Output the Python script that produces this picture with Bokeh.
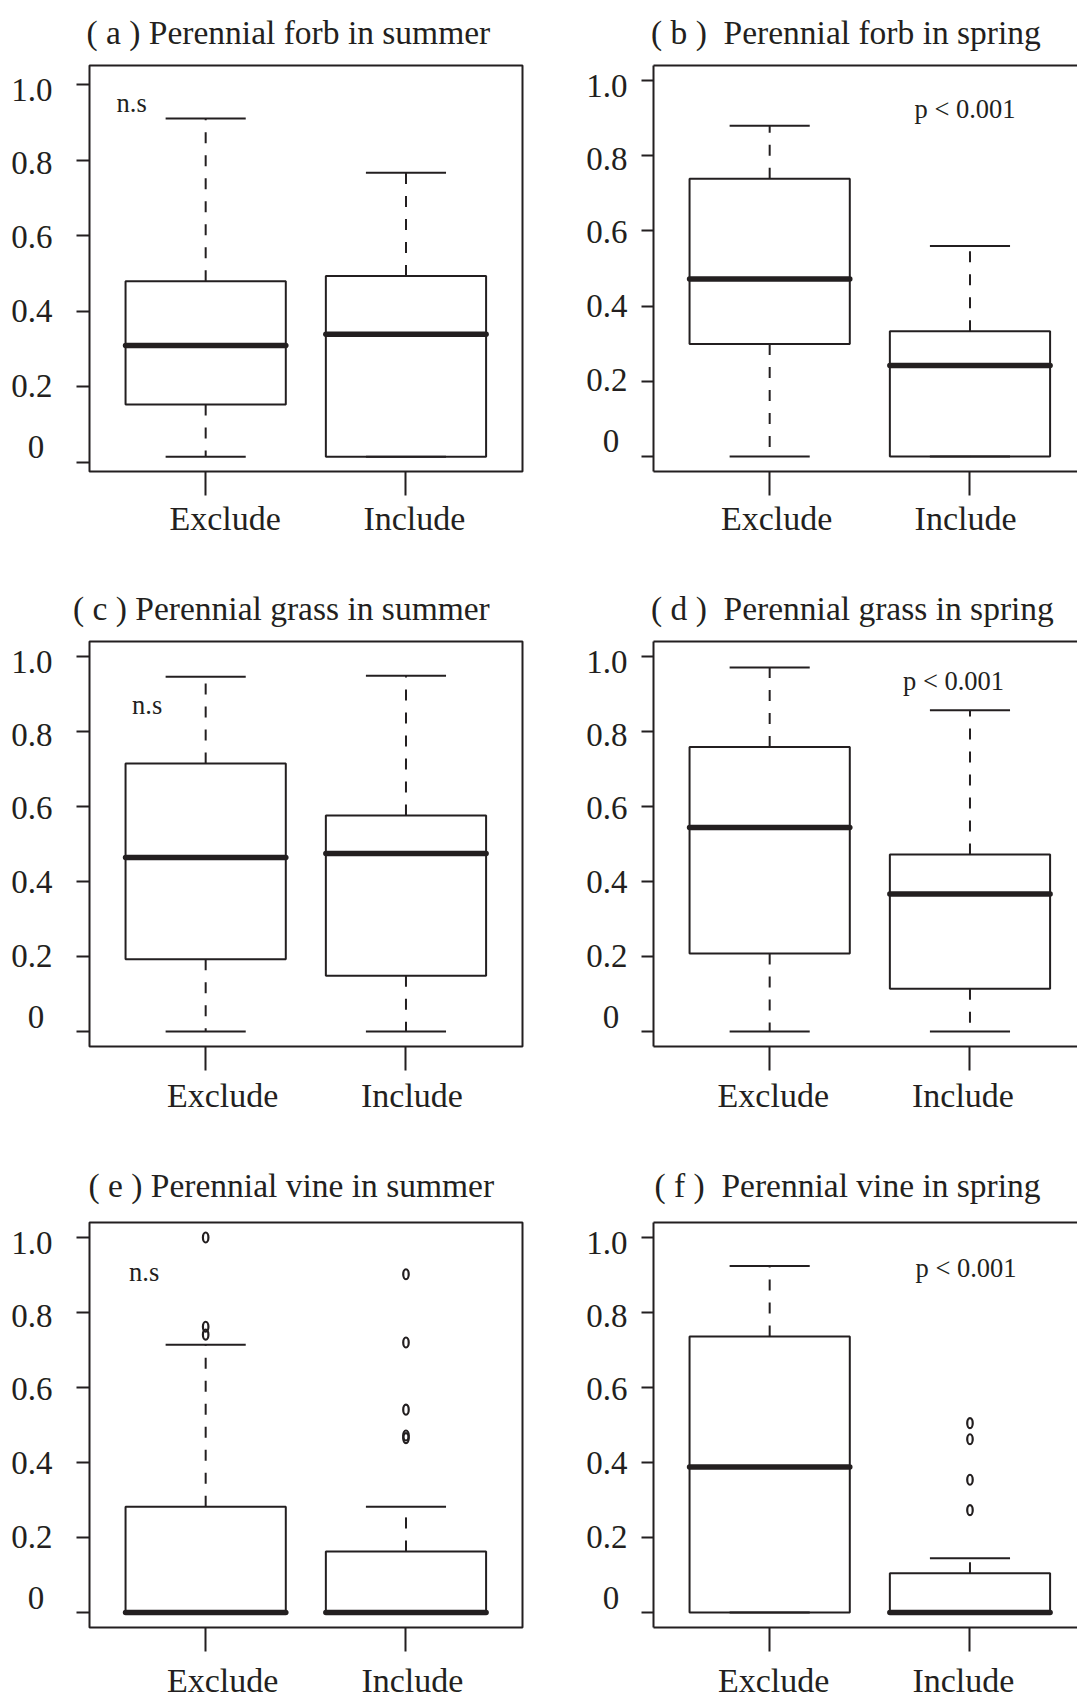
from bokeh.plotting import figure
from bokeh.models import (ColumnDataSource, FixedTicker, Label, LinearAxis, Range1d,
                          CustomJSTickFormatter)
from bokeh.layouts import column, row
from bokeh.transform import dodge
from bokeh.embed import file_html
from bokeh.resources import INLINE

# ---------------- data ----------------
categories = ["Exclude", "Include"]
y_ticks = [0, 0.2, 0.4, 0.6, 0.8, 1.0]
y_tick_labels = ["0", "0.2", "0.4", "0.6", "0.8", "1.0"]
titles = ["( a ) Perennial forb in summer", "( b )  Perennial forb in spring",
          "( c ) Perennial grass in summer", "( d )  Perennial grass in spring",
          "( e ) Perennial vine in summer", "( f )  Perennial vine in spring"]
tests = ["n.s", "p < 0.001", "n.s", "p < 0.001", "n.s", "p < 0.001"]

# box statistics, [Exclude, Include]
a_lower = [0.015, 0.015]; a_q1 = [0.153, 0.015]; a_median = [0.309, 0.339]; a_q3 = [0.479, 0.493]; a_upper = [0.910, 0.766]
b_lower = [0.0, 0.0];     b_q1 = [0.299, 0.0];   b_median = [0.472, 0.242]; b_q3 = [0.739, 0.333]; b_upper = [0.880, 0.560]
c_lower = [0.0, 0.0];     c_q1 = [0.193, 0.149]; c_median = [0.464, 0.475]; c_q3 = [0.715, 0.576]; c_upper = [0.946, 0.949]
d_lower = [0.0, 0.0];     d_q1 = [0.208, 0.114]; d_median = [0.544, 0.367]; d_q3 = [0.759, 0.472]; d_upper = [0.971, 0.857]
e_lower = [0.0, 0.0];     e_q1 = [0.0, 0.0];     e_median = [0.0, 0.0];     e_q3 = [0.282, 0.163]; e_upper = [0.714, 0.282]
f_lower = [0.0, 0.0];     f_q1 = [0.0, 0.0];     f_median = [0.388, 0.0];   f_q3 = [0.736, 0.105]; f_upper = [0.924, 0.145]

# outliers
e_out_cat = ["Exclude", "Exclude", "Exclude", "Include", "Include", "Include", "Include", "Include"]
e_out_val = [1.0, 0.762, 0.741, 0.902, 0.720, 0.541, 0.472, 0.465]
f_out_cat = ["Include", "Include", "Include", "Include"]
f_out_val = [0.505, 0.462, 0.354, 0.273]

# ---------------- style / layout ----------------
INK = "#231F20"
FONT = "Liberation Serif"
NBSP = "\u00a0"

COLS = [dict(x0=0, bl=89, fw=433, br=18, xr=(0.42, 0.42 + 433 / 200.3)),
        dict(x0=540, bl=113, fw=424, br=0, xr=(0.42, 0.42 + 424 / 200.3))]
ROWS = [dict(y0=0, bt=65, fh=406, bb=104),
        dict(y0=575, bt=66, fh=405, bb=104),
        dict(y0=1150, bt=72, fh=405, bb=74)]

TITLE_OFFSET = [-3, -2.5, -16.5, -2.5, -1, 1]
TITLE_STANDOFF = [25, 25, 24.9, 24.9, 31.5, 31.5]
TEST_POS = [(116, 102.2), (914, 108), (131.5, 704.5), (902.5, 680), (128.5, 1271.5), (915, 1267.5)]
# horizontal offset (data units) of each category label from its tick
XLAB_SHIFT = [(0.097, 0.042), (0.035, -0.022), (0.085, 0.030),
              (0.018, -0.035), (0.085, 0.032), (0.020, -0.033)]
XLAB_STANDOFF = [4, 4, 6, 6, 10, 10]
# vertical displacement (px, + = down) of each y tick label from its tick
YLAB_SHIFT_PX = [-15, -1, 0, 1, 3.3, 5.4]
Y_RANGES = [(-0.024, 1.050), (-0.04, 1.04), (-0.04, 1.04), (-0.04, 1.04), (-0.04, 1.04), (-0.04, 1.04)]


def page_to_data(col, rw, yr, px, py):
    c, r = COLS[col], ROWS[rw]
    fl = c["x0"] + c["bl"]
    ft = r["y0"] + r["bt"]
    x = c["xr"][0] + (px - fl) / c["fw"] * (c["xr"][1] - c["xr"][0])
    y = yr[1] - (py - ft) / r["fh"] * (yr[1] - yr[0])
    return x, y


def label_formatter(labels):
    return CustomJSTickFormatter(args=dict(labels=labels),
                                 code="return labels[index];")


def make_panel(k, lower, q1, med, q3, upper, out_cat=None, out_val=None):
    col, rw = k % 2, k // 2
    c, r = COLS[col], ROWS[rw]
    yr = Y_RANGES[k]
    ppu_y = r["fh"] / (yr[1] - yr[0])
    p = figure(frame_width=c["fw"], frame_height=r["fh"],
               min_border_left=c["bl"], min_border_right=c["br"],
               min_border_top=r["bt"], min_border_bottom=r["bb"],
               x_range=Range1d(*c["xr"]), y_range=Range1d(*yr),
               x_axis_type=None, y_axis_type=None,
               output_backend="svg", toolbar_location=None)
    p.background_fill_color = "white"
    p.border_fill_color = "white"

    p.title.text = titles[k].replace("  ", " " + NBSP)
    p.title.text_font = FONT
    p.title.text_font_size = "33.5px"
    p.title.text_font_style = "normal"
    p.title.text_color = INK
    p.title.align = "left"
    p.title.vertical_align = "top"
    p.title.offset = TITLE_OFFSET[k]
    p.title.standoff = TITLE_STANDOFF[k]

    right_col = col == 1
    if right_col:
        p.outline_line_color = None
    else:
        p.outline_line_color = INK
        p.outline_line_width = 2

    # y tick marks
    yax = LinearAxis(ticker=FixedTicker(ticks=y_ticks),
                     formatter=label_formatter(["" for _ in y_ticks]))
    yax.major_tick_out = 12 if right_col else 13
    yax.major_tick_in = 0
    yax.major_tick_line_width = 2
    yax.major_tick_line_color = INK
    yax.minor_tick_line_color = None
    yax.axis_line_color = INK if right_col else None
    yax.axis_line_width = 2
    yax.major_label_standoff = 0
    yax.major_label_text_font_size = "0px"
    p.add_layout(yax, "left")

    # y tick labels
    ylab_pos = [t - s / ppu_y for t, s in zip(y_ticks, YLAB_SHIFT_PX)]
    ylab_txt = [lab + NBSP if lab == "0" else lab for lab in y_tick_labels]
    ylx = LinearAxis(ticker=FixedTicker(ticks=ylab_pos), formatter=label_formatter(ylab_txt))
    ylx.major_tick_line_color = None
    ylx.minor_tick_line_color = None
    ylx.major_tick_out = 0
    ylx.major_tick_in = 0
    ylx.axis_line_color = None
    ylx.major_label_standoff = 14 if right_col else 24
    ylx.major_label_text_font = FONT
    ylx.major_label_text_font_size = "33px"
    ylx.major_label_text_color = INK
    p.add_layout(ylx, "left")

    xpos = {cat: i + 1 for i, cat in enumerate(categories)}

    # x tick marks
    xax = LinearAxis(ticker=FixedTicker(ticks=[xpos[cat] for cat in categories]),
                     formatter=label_formatter(["" for _ in categories]))
    xax.major_tick_out = 24
    xax.major_tick_in = 0
    xax.major_tick_line_width = 2
    xax.major_tick_line_color = INK
    xax.minor_tick_line_color = None
    xax.axis_line_color = INK if right_col else None
    xax.axis_line_width = 2
    xax.major_label_standoff = 0
    xax.major_label_text_font_size = "0px"
    p.add_layout(xax, "below")

    # x category labels
    lab_ticks = [xpos[cat] + s for cat, s in zip(categories, XLAB_SHIFT[k])]
    lax = LinearAxis(ticker=FixedTicker(ticks=lab_ticks), formatter=label_formatter(categories))
    lax.major_tick_line_color = None
    lax.minor_tick_line_color = None
    lax.major_tick_out = 0
    lax.major_tick_in = 0
    lax.axis_line_color = None
    lax.major_label_standoff = XLAB_STANDOFF[k]
    lax.major_label_text_font = FONT
    lax.major_label_text_font_size = "34px"
    lax.major_label_text_color = INK
    p.add_layout(lax, "below")

    if right_col:
        top = LinearAxis(ticker=FixedTicker(ticks=[]))
        top.axis_line_color = INK
        top.axis_line_width = 2
        top.major_tick_line_color = None
        top.minor_tick_line_color = None
        top.major_tick_out = 0
        top.major_label_standoff = 0
        p.add_layout(top, "above")

    src = ColumnDataSource(dict(x=[xpos[cat] for cat in categories],
                                lo=lower, q1=q1, med=med, q3=q3, hi=upper))

    p.vbar(x="x", width=0.8, bottom="q1", top="q3", source=src,
           fill_color="white", line_color=INK, line_width=2)
    p.segment(x0="x", y0="q3", x1="x", y1="hi", source=src,
              line_color=INK, line_width=2, line_dash="11 12")
    p.segment(x0="x", y0="q1", x1="x", y1="lo", source=src,
              line_color=INK, line_width=2, line_dash="11 12")
    p.segment(x0=dodge("x", -0.2), y0="hi", x1=dodge("x", 0.2), y1="hi", source=src,
              line_color=INK, line_width=2)
    p.segment(x0=dodge("x", -0.2), y0="lo", x1=dodge("x", 0.2), y1="lo", source=src,
              line_color=INK, line_width=2)
    p.segment(x0=dodge("x", -0.4), y0="med", x1=dodge("x", 0.4), y1="med", source=src,
              line_color=INK, line_width=5.5, line_cap="round")

    if out_cat:
        osrc = ColumnDataSource(dict(x=[xpos[cat] for cat in out_cat], y=out_val))
        p.ellipse(x="x", y="y", width=5.5, height=10, width_units="screen",
                  height_units="screen", source=osrc, fill_color=None,
                  line_color=INK, line_width=2.2)

    # significance text (inside the frame)
    sx, sy = page_to_data(col, rw, yr, *TEST_POS[k])
    p.add_layout(Label(x=sx, y=sy, text=tests[k], text_font=FONT,
                       text_font_size="26.5px", text_color=INK,
                       text_align="left", text_baseline="alphabetic"))
    return p


pa = make_panel(0, a_lower, a_q1, a_median, a_q3, a_upper)
pb = make_panel(1, b_lower, b_q1, b_median, b_q3, b_upper)
pc = make_panel(2, c_lower, c_q1, c_median, c_q3, c_upper)
pd_ = make_panel(3, d_lower, d_q1, d_median, d_q3, d_upper)
pe = make_panel(4, e_lower, e_q1, e_median, e_q3, e_upper, e_out_cat, e_out_val)
pf = make_panel(5, f_lower, f_q1, f_median, f_q3, f_upper, f_out_cat, f_out_val)

layout = column(row(pa, pb), row(pc, pd_), row(pe, pf))
open("out.html", "w").write(file_html(layout, INLINE))
